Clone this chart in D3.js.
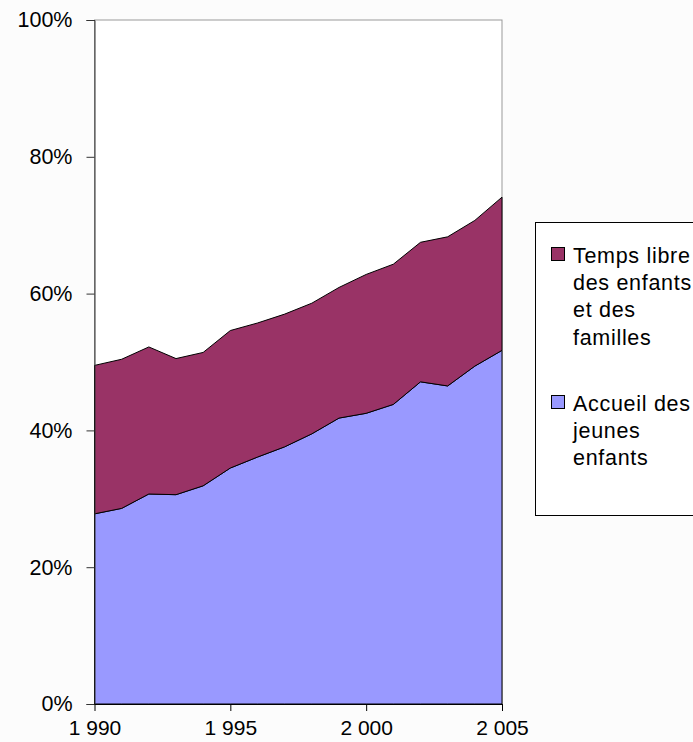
<!DOCTYPE html>
<html>
<head>
<meta charset="utf-8">
<title>Accueil des jeunes enfants / Temps libre</title>
<script src="https://d3js.org/d3.v7.min.js"></script>
<style>
body {
	margin: 0;
	background: #fcfcfc;
}
svg {
	display: block;
	font-family: "Liberation Sans", Arial, sans-serif;
}
.axis text {
	font-size: 21.5px;
	fill: #000;
}
.x-axis text {
	font-size: 21px;
}
.legend text {
	font-size: 21.5px;
	letter-spacing: 0.7px;
	fill: #000;
}
</style>
</head>
<body>
<svg id="chart" width="693" height="742"></svg>
<script>
// data (share in %)
var years = [1990, 1991, 1992, 1993, 1994, 1995, 1996, 1997, 1998, 1999, 2000, 2001, 2002, 2003, 2004, 2005];
var accueil = [27.8, 28.6, 30.7, 30.6, 31.9, 34.5, 36.1, 37.6, 39.5, 41.8, 42.5, 43.8, 47.1, 46.5, 49.4, 51.7];
var tempsLibre = [21.7, 21.8, 21.5, 19.9, 19.5, 20.1, 19.6, 19.4, 19.1, 19.1, 20.3, 20.5, 20.4, 21.8, 21.3, 22.4];
var xTicks = [1990, 1995, 2000, 2005];
var yTicks = [0, 20, 40, 60, 80, 100];

var seriesNames = ["Accueil des jeunes enfants", "Temps libre des enfants et des familles"];
var seriesColors = ["#9999ff", "#993366"];
// legend labels as they wrap in the box (top entry first)
var legendLines = [
	["Temps libre", "des enfants", "et des", "familles"],
	["Accueil des", "jeunes", "enfants"]
];

var svg = d3.select("#chart"),
	margin = {top: 20, right: 191, bottom: 38, left: 94};
var W = +svg.attr("width"), H = +svg.attr("height");

var fr = d3.formatLocale({decimal: ",", thousands: " ", grouping: [3], currency: ["", " €"]});
var fmtYear = fr.format(",d");

var x = d3.scaleLinear()
	.domain([1990, 2005])
	.range([margin.left + 0.5, W - margin.right]);

var y = d3.scaleLinear()
	.domain([0, 100])
	.range([H - margin.bottom, margin.top]);

var table = years.map(function(yr, i) {
	return {year: yr, a: accueil[i], t: tempsLibre[i]};
});
var stack = d3.stack().keys(["a", "t"]);
var layers = stack(table);

// plot background + frame
svg.append("rect")
	.attr("x", x(1990))
	.attr("y", y(100))
	.attr("width", x(2005) - x(1990))
	.attr("height", y(0) - y(100))
	.attr("fill", "#fff")
	.attr("stroke", "#999")
	.attr("stroke-width", 1);

var area = d3.area()
	.x(d => x(d.data.year))
	.y0(d => y(d[0]))
	.y1(d => y(d[1]));

svg.append("g").selectAll("path")
	.data(layers)
	.join("path")
	.attr("fill", (d, i) => seriesColors[i])
	.attr("stroke", "#000")
	.attr("stroke-width", 1)
	.attr("stroke-linejoin", "round")
	.attr("d", area);

// axes
var yAxis = svg.append("g")
	.attr("class", "axis")
	.attr("transform", "translate(" + x(1990) + ",0)")
	.call(d3.axisLeft(y).tickValues(yTicks).tickFormat(d => d + "%").tickSize(8).tickPadding(14));
yAxis.select(".domain").attr("stroke", "#333");
yAxis.selectAll(".tick line").attr("stroke", "#333");

var xAxis = svg.append("g")
	.attr("class", "axis x-axis")
	.attr("transform", "translate(0," + y(0) + ")")
	.call(d3.axisBottom(x).tickValues(xTicks).tickFormat(fmtYear).tickSize(7).tickSizeOuter(0).tickPadding(6));
xAxis.select(".domain").attr("stroke", "#000");
xAxis.selectAll(".tick line").attr("stroke", "#000");
xAxis.selectAll(".tick text").attr("dy", "0.88em");

// legend
var legend = svg.append("g").attr("class", "legend");
legend.append("rect")
	.attr("x", 535.5)
	.attr("y", 222.5)
	.attr("width", 200)
	.attr("height", 293)
	.attr("fill", "#fff")
	.attr("stroke", "#000");

var entryTop = [247, 395];
var lineH = 27.2;
legendLines.forEach(function(lines, k) {
	var colorIdx = 1 - k;
	legend.append("rect")
		.attr("x", 551.5)
		.attr("y", entryTop[k] + 0.5)
		.attr("width", 13)
		.attr("height", 13)
		.attr("fill", seriesColors[colorIdx])
		.attr("stroke", "#000");
	var t = legend.append("text")
		.attr("x", 573)
		.attr("y", entryTop[k] + 16);
	t.selectAll("tspan")
		.data(lines)
		.join("tspan")
		.attr("x", 573)
		.attr("dy", (d, i) => i ? lineH : 0)
		.text(d => d);
});
</script>
</body>
</html>
